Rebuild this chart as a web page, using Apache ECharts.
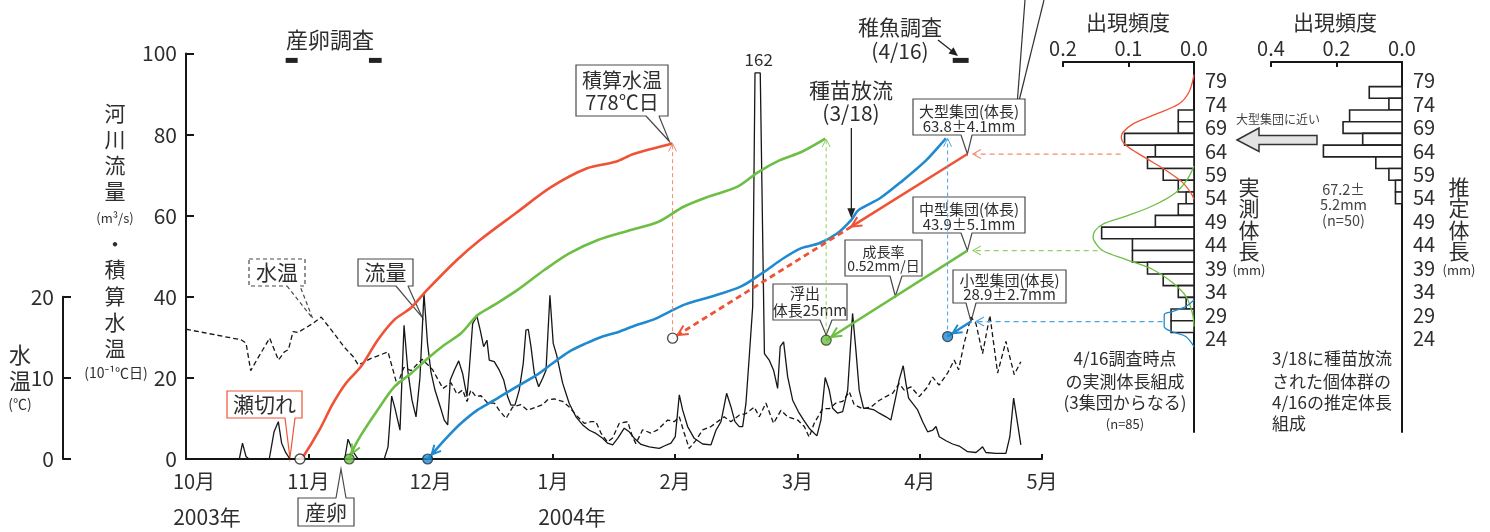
<!DOCTYPE html>
<html><head><meta charset="utf-8"><title>chart</title>
<script src="https://cdn.jsdelivr.net/npm/echarts@6.0.0/dist/echarts.min.js"></script>
<style>html,body{margin:0;padding:0;background:#fff;}#c{width:1490px;height:532px;}</style>
</head><body><div id="c"></div>
<script>
// ================= DATA =================
// x values: months since 1 Oct 2003 (0 = 10月1日 ... 7 = 5月1日)
const monthLabels = ['10月','11月','12月','1月','2月','3月','4月','5月'];
const yearLabels = ['2003年','2004年'];
// 河川流量 (m3/s)
const flow = [[0,0],[0.436,0],[0.462,3.9],[0.491,0.6],[0.515,0],
[0.681,0],[0.720,6.7],[0.755,9.2],[0.782,3.9],[0.817,1.5],[0.850,0],
[1.298,0],[1.325,4.9],[1.366,1.8],[1.407,0],
[1.621,0],[1.652,3],[1.682,15.5],[1.709,12.5],[1.750,7.1],[1.783,33],[1.815,21.5],[1.848,14.5],[1.881,10.4],[1.913,20],[1.946,40.8],[1.975,28.5],[2.003,21.5],[2.036,17],[2.079,12.9],[2.112,9.6],[2.140,8.4],[2.161,19.5],[2.194,21.9],[2.230,24.2],[2.262,21.1],[2.298,15.4],[2.316,21.9],[2.344,33.4],[2.379,35.2],[2.406,31.8],[2.434,27.7],[2.461,29.3],[2.480,24.4],[2.521,24],[2.562,21.9],[2.598,19.5],[2.630,15.4],[2.657,13.3],[2.690,13.3],[2.725,17],[2.758,23.6],[2.780,31.8],[2.799,32],[2.821,27.7],[2.848,21.2],[2.884,17.8],[2.917,19.9],[2.944,21.9],[2.976,40.4],[3.003,28.5],[3.031,25.6],[3.080,18.7],[3.134,13.7],[3.189,10.4],[3.244,8.4],[3.298,7.1],[3.352,6.3],[3.407,5.1],[3.448,3.9],[3.489,3.5],[3.530,5.1],[3.584,7.6],[3.625,6.7],[3.666,5.1],[3.721,3.6],[3.788,3.0],[3.870,2.6],[3.911,3.2],[3.966,3.9],[4.001,5.5],[4.034,15.8],[4.061,12.1],[4.102,8],[4.156,5.1],[4.225,3.7],[4.293,3.5],[4.334,7.1],[4.375,9.2],[4.421,16.2],[4.456,12.9],[4.489,9.2],[4.524,8],[4.552,8],[4.579,13.7],[4.606,25.2],[4.634,37.5],[4.653,95.2],[4.696,95.2],[4.730,26],[4.769,24.4],[4.805,21.9],[4.838,17.4],[4.859,27.7],[4.887,28.9],[4.920,20.3],[4.961,14.5],[5.007,11.7],[5.051,9.6],[5.096,7.6],[5.159,5.7],[5.192,9.6],[5.227,20.1],[5.260,17],[5.288,12.5],[5.329,11.3],[5.370,11.7],[5.411,17],[5.432,26.9],[5.451,35.9],[5.478,26.9],[5.505,17],[5.541,12.5],[5.574,12.5],[5.628,12.1],[5.669,11.3],[5.724,10.4],[5.764,9.6],[5.805,15.4],[5.832,19.5],[5.865,23],[5.887,18.7],[5.909,15],[5.942,13.7],[5.983,12.1],[6.024,9.2],[6.065,6.7],[6.106,7.1],[6.133,8],[6.160,5.5],[6.215,4.5],[6.269,3.7],[6.323,3.2],[6.392,1.8],[6.460,1.6],[6.492,2.4],[6.514,3.0],[6.541,1.6],[6.623,1.4],[6.705,1.4],[6.737,5.5],[6.768,15],[6.800,8.8],[6.827,3.5]];
const flowPeakLabel = '162';
const flowPeakAt = [4.675, 95.2];
// 水温 (℃)
const waterTemp = [[0.000,16.0],[0.450,14.7],[0.491,14.3],[0.529,10.9],[0.586,12.4],[0.684,14.9],[0.756,12.2],[0.804,13.2],[0.838,13.5],[0.875,15.7],[0.916,15.6],[1.036,16.7],[1.106,17.5],[1.199,15.7],[1.294,13.8],[1.368,12.6],[1.409,11.6],[1.513,12.4],[1.652,13.2],[1.727,9.1],[1.782,11.3],[1.840,10.9],[1.930,12.3],[1.979,11.6],[2.017,11.0],[2.101,8.7],[2.167,9.4],[2.216,8.0],[2.262,8.5],[2.298,7.1],[2.330,8.5],[2.371,7.7],[2.412,7.8],[2.467,6.9],[2.521,6.9],[2.562,6.0],[2.617,5.0],[2.671,6.4],[2.739,6.7],[2.794,6.0],[2.862,6.4],[2.917,6.7],[2.957,7.3],[3.011,7.4],[3.080,7.1],[3.134,6.4],[3.203,5.2],[3.257,4.4],[3.312,4.6],[3.352,4.6],[3.393,3.2],[3.448,2.1],[3.489,2.6],[3.543,4.4],[3.612,4.6],[3.652,2.7],[3.679,1.9],[3.734,3.6],[3.802,3.2],[3.857,3.6],[3.939,4.8],[3.993,4.6],[4.034,5.2],[4.074,3.2],[4.115,1.3],[4.170,2.3],[4.225,3.6],[4.293,4.0],[4.401,5.2],[4.456,4.6],[4.524,5.4],[4.579,5.6],[4.647,6.4],[4.688,5.2],[4.742,6.9],[4.805,4.4],[4.865,6.0],[4.920,5.2],[5.002,4.8],[5.056,4.0],[5.096,2.7],[5.137,4.4],[5.206,6.2],[5.260,6.2],[5.315,6.9],[5.370,7.1],[5.424,8.3],[5.464,6.7],[5.533,6.2],[5.601,6.4],[5.656,7.1],[5.724,7.7],[5.778,8.1],[5.832,9.3],[5.873,8.5],[5.928,8.9],[5.996,7.7],[6.065,8.9],[6.105,10.1],[6.159,9.1],[6.228,10.6],[6.282,12.2],[6.318,11.0],[6.364,14.3],[6.419,17.5],[6.460,16.7],[6.514,13.0],[6.574,17.7],[6.637,10.6],[6.705,14.5],[6.773,10.4],[6.827,12.0]];
// 積算水温 (10℃日)
const sumRed = [[0.932,0],[0.967,1],[1.090,7.1],[1.202,13.7],[1.308,18.7],[1.431,22.8],[1.567,29.3],[1.703,34.3],[1.840,37.3],[1.966,41.5],[2.213,49],[2.404,54],[2.696,60.6],[2.988,67.1],[3.280,71.7],[3.513,73.3],[3.660,75.2],[3.978,77.8]];
const sumGreen = [[1.335,0],[1.363,2.2],[1.431,5.9],[1.567,12.1],[1.703,17.8],[1.840,21.1],[1.976,24.8],[2.112,28.1],[2.249,31],[2.385,35.5],[2.521,38],[2.712,41.7],[2.930,46.6],[3.134,50.7],[3.368,54],[3.630,56.4],[3.864,58.5],[4.069,62.2],[4.273,64.7],[4.506,67.1],[4.682,70.8],[4.857,73.7],[5.032,75.7],[5.228,79]];
const sumBlue = [[1.976,0],[2.017,1.4],[2.140,5.5],[2.249,8.8],[2.385,12.1],[2.521,14.5],[2.657,17],[2.862,20.6],[2.998,23.6],[3.134,26.5],[3.271,28.5],[3.407,30.2],[3.543,31.4],[3.679,33],[3.816,34.3],[3.952,36.3],[4.088,38.2],[4.293,40],[4.535,42.5],[4.710,45.8],[4.886,49.5],[5.032,52],[5.178,53.2],[5.324,55.6],[5.441,59],[5.500,61.4],[5.675,64.3],[5.850,68.4],[6.054,73.7],[6.214,79.1]];
// 成長 back-calculation lines and markers
const growthRed = [[6.390,75.2],[5.441,57.3]];
const growthRedBack = [[5.441,57.3],[3.979,29.8]];
const growthGreen = [[6.390,51.4],[5.235,29.3]];
const growthBlue = [[6.419,33.9],[6.228,30.2]];
const upRed = [[3.979,29.8],[3.979,77.8]];
const upGreen = [[5.235,29.3],[5.235,78.9]];
const upBlue = [[6.228,30.2],[6.228,79.0]];
const openDots = [[0.932,0],[3.979,29.8]];
const greenDots = [[1.335,0],[5.235,29.3]];
const blueDots = [[1.976,0],[6.228,30.2]];
const surveySpawn = [[0.815,0.913],[1.496,1.600]];
const surveyFry = [[6.27,6.40]];
const surveyLevel = 98.3;
const releaseAt = [5.441, 59.4];
// links to histogram: [main chart point, histogram point]
const linkRed = [[6.435,75.2],[0.112,63.4]];
const linkGreen = [[6.435,51.4],[0.147,42.7]];
const linkBlue = [[6.460,33.9],[0.048,27.5]];
// 体長組成 histograms (bin centre mm, 出現頻度)
const bins1 = [71.5,69,66.5,64,61.5,59,56.5,54,51.5,49,46.5,44,41.5,39,36.5,34,31.5,29,26.5];
const freq1 = [0.024,0.024,0.106,0.059,0.071,0.047,0.024,0.012,0.024,0.059,0.141,0.094,0.094,0.071,0.047,0.024,0.012,0.035,0.035];
const bins2 = [76.5,74,71.5,69,66.5,64,61.5,59,56.5,54];
const freq2 = [0.10,0.04,0.16,0.18,0.12,0.24,0.08,0.04,0.02,0.02];
const binHalf = 1.25;
const normRed = [[0,80.3],[0.0076,76.6],[0.0227,74.1],[0.063,71.6],[0.093,69.8],[0.1085,68.0],[0.111,66.9],[0.106,65.5],[0.088,63.7],[0.063,61.6],[0.038,59.4],[0.0176,57.3],[0.005,55.1],[0,53.7]];
const normGreen = [[0,60.8],[0.01,58.0],[0.028,55.1],[0.063,52.3],[0.1035,50.1],[0.139,48.4],[0.1515,46.9],[0.154,45.5],[0.149,44.1],[0.139,42.7],[0.1035,40.8],[0.063,38.7],[0.033,35.9],[0.0126,33.0],[0.0025,29.4],[0,26.5]];
const normBlue = [[0,32.2],[0.0126,30.8],[0.033,29.7],[0.0455,29.0],[0.0455,26.5],[0.033,25.4],[0.0126,24.4],[0,22.2]];

// ================= STYLE =================
const FF = '"Noto Sans CJK JP","Noto Sans",sans-serif';
const C = {red:'#ef5235', green:'#6dbe45', blue:'#1f8ad0', redL:'#f58a72', greenL:'#93cf6c', blueL:'#4ea3dd', ink:'#161616', txt:'#2e2e2e', box:'#4a4a4a'};

const chart = echarts.init(document.getElementById('c'), null, {renderer:'canvas'});

const axLine = {show:true, onZero:false, lineStyle:{color:C.ink, width:2}};
const lbl = (extra) => Object.assign({fontSize:20, color:C.txt, fontFamily:FF}, extra);
const lineS = (data, color, width, extra) => Object.assign({type:'line', xAxisIndex:0, yAxisIndex:0, data, symbol:'none', silent:true, clip:false, z:3, lineStyle:{color, width}}, extra || {});

function histSeries(bins, freqs, idx) {
  return {type:'custom', xAxisIndex:idx, yAxisIndex:idx, silent:true, z:2, clip:false,
    data: bins.map((b,i)=>[b, freqs[i]]), encode:{x:1, y:0},
    renderItem(params, api) {
      const c = api.value(0), f = api.value(1);
      const p1 = api.coord([0, c + binHalf]), p2 = api.coord([f, c - binHalf]);
      return {type:'rect', shape:{x:Math.min(p1[0],p2[0]), y:Math.min(p1[1],p2[1]), width:Math.abs(p2[0]-p1[0]), height:Math.abs(p2[1]-p1[1])},
        style:{fill:'#fff', stroke:'#222', lineWidth:1.6}};
    }};
}
const normS = (data, color, idx) => ({type:'line', xAxisIndex:idx, yAxisIndex:idx, data, symbol:'none', smooth:0.35, silent:true, clip:false, z:3, lineStyle:{color, width:1.3}});

const histX = (gi, max, iv) => ({gridIndex:gi, type:'value', min:0, max, interval:iv, inverse:true, position:'top',
  axisLine:axLine, axisTick:{show:true, inside:true, length:5, lineStyle:{color:C.ink, width:2}}, splitLine:{show:false},
  axisLabel:lbl({margin:4, formatter:v=>v.toFixed(1)})});
const histY = (gi) => ({gridIndex:gi, type:'value', min:4, max:83, interval:5, position:'right',
  axisLine:axLine, axisTick:{show:false}, splitLine:{show:false},
  axisLabel:lbl({margin:11, showMaxLabel:false, formatter:v=> (v>=24 && v<=79) ? String(v) : ''})});

const option = {
  animation:false,
  backgroundColor:'#fff',
  textStyle:{fontFamily:FF},
  grid:[
    {left:186, right:448, top:53.5, bottom:73, outerBoundsMode:'none'},
    {left:186, right:448, top:296.8, bottom:73, outerBoundsMode:'none'},
    {left:1063, right:296, top:62, bottom:100, outerBoundsMode:'none'},
    {left:1271, right:88, top:62, bottom:100, outerBoundsMode:'none'}
  ],
  xAxis:[
    {gridIndex:0, type:'value', min:0, max:7, interval:1, axisLine:axLine,
     axisTick:{show:true, inside:true, length:5, lineStyle:{color:C.ink, width:2}}, splitLine:{show:false},
     axisLabel:lbl({margin:12, formatter:v=> v===0 ? '{f|'+monthLabels[0]+'}' : monthLabels[v],
       rich:{f:{padding:[0,0,0,16], fontSize:20, color:C.txt, fontFamily:FF}}})},
    {gridIndex:1, type:'value', min:0, max:7, show:false},
    histX(2, 0.2, 0.1),
    histX(3, 0.4, 0.2)
  ],
  yAxis:[
    {gridIndex:0, type:'value', min:0, max:100, interval:20, axisLine:axLine,
     axisTick:{show:true, inside:true, length:8, lineStyle:{color:C.ink, width:2}}, splitLine:{show:false},
     axisLabel:lbl({margin:9, fontSize:21})},
    {gridIndex:1, type:'value', min:0, max:20, interval:10, position:'left', offset:123, axisLine:axLine,
     axisTick:{show:true, inside:true, length:8, lineStyle:{color:C.ink, width:2}}, splitLine:{show:false},
     axisLabel:lbl({margin:9, fontSize:21})},
    histY(2), histY(3)
  ],
  series:[
    lineS(flow, C.ink, 1.3, {z:2}),
    {type:'line', xAxisIndex:1, yAxisIndex:1, data:waterTemp, symbol:'none', silent:true, clip:false, z:2, lineStyle:{color:C.ink, width:1.3, type:[5,3]}},
    lineS(sumRed, C.red, 2.6, {smooth:0.3}),
    lineS(sumGreen, C.green, 2.6, {smooth:0.3}),
    lineS(sumBlue, C.blue, 2.6, {smooth:0.3}),
    lineS(growthRed, C.red, 2.5),
    lineS(growthRedBack, C.red, 2.8, {lineStyle:{color:C.red, width:2.8, type:[6,4]}}),
    lineS(growthGreen, C.green, 2.5),
    lineS(growthBlue, C.blue, 2.5),
    lineS(upRed, C.redL, 1, {lineStyle:{color:C.redL, width:1, type:[4,3]}}),
    lineS(upGreen, C.greenL, 1, {lineStyle:{color:C.greenL, width:1, type:[4,3]}}),
    lineS(upBlue, C.blueL, 1, {lineStyle:{color:C.blueL, width:1, type:[4,3]}}),
    ...surveySpawn.concat(surveyFry).map(s => lineS([[s[0],surveyLevel],[s[1],surveyLevel]], '#222', 5, {z:4})),
    {type:'scatter', xAxisIndex:0, yAxisIndex:0, data:openDots, symbolSize:10, silent:true, clip:false, z:6, itemStyle:{color:'#fff', borderColor:'#222', borderWidth:1.4}},
    {type:'scatter', xAxisIndex:0, yAxisIndex:0, data:greenDots, symbolSize:10, silent:true, clip:false, z:6, itemStyle:{color:C.green, borderColor:'#2a3a22', borderWidth:1.2}},
    {type:'scatter', xAxisIndex:0, yAxisIndex:0, data:blueDots, symbolSize:10, silent:true, clip:false, z:6, itemStyle:{color:C.blue, borderColor:'#1b2a3a', borderWidth:1.2}},
    histSeries(bins1, freq1, 2),
    histSeries(bins2, freq2, 3),
    normS(normRed, C.red, 2), normS(normGreen, C.green, 2), normS(normBlue, C.blue, 2)
  ]
};
chart.setOption(option);

// ================= ANNOTATIONS =================
const px = (pt, g) => chart.convertToPixel({gridIndex:g || 0}, pt);
function T(text, x, y, size, o) {
  o = o || {};
  const al = o.align || 'center', va = o.va || 'middle';
  return {type:'text', x, y, z:o.z || 20, silent:true,
    style:{text, fill:o.color || C.txt, font:(size)+'px '+FF, align:al, verticalAlign:va, textAlign:al, textVerticalAlign:va}};
}
function head(to, from, o) {
  let dx = to[0]-from[0], dy = to[1]-from[1]; const L = Math.hypot(dx,dy) || 1; dx/=L; dy/=L;
  const back = o.back || 0, len = o.len || 8, half = o.half || 4;
  const tip = [to[0]-dx*back, to[1]-dy*back];
  const b = [tip[0]-dx*len, tip[1]-dy*len], n = [-dy, dx];
  const pts = [[b[0]+n[0]*half, b[1]+n[1]*half], tip, [b[0]-n[0]*half, b[1]-n[1]*half]];
  return o.fill ? {type:'polygon', z:30, silent:true, shape:{points:pts}, style:{fill:o.color}}
                : {type:'polyline', z:30, silent:true, shape:{points:pts}, style:{stroke:o.color, lineWidth:o.lw || 1.2, fill:null}};
}
function callout(b) {
  const by = b.up ? b.y : b.y + b.h;
  const s = b.stroke || C.box, dash = b.dash || null, z = b.z || 1;
  const ins = b.up ? 1.5 : -1.5;
  const els = [
    {type:'rect', z, silent:true, shape:{x:b.x, y:b.y, width:b.w, height:b.h}, style:{fill:'#fff', stroke:s, lineWidth:1.2, lineDash:dash}},
    {type:'polygon', z, silent:true, shape:{points:[[b.base[0]+0.8, by+ins],[b.base[0], by], b.tip, [b.base[1], by],[b.base[1]-0.8, by+ins]]}, style:{fill:'#fff'}},
    {type:'polyline', z, silent:true, shape:{points:[[b.base[0], by], b.tip, [b.base[1], by]]}, style:{stroke:s, lineWidth:1.2, lineDash:dash, fill:null}}
  ];
  b.lines.forEach(l => els.push(T(l[0], l[1], l[2], l[3], {z:z+0.5})));
  return els;
}
const add = (p, d) => [p[0]+d[0], p[1]+d[1]];
const G = [];

// arrowheads on main chart lines
const last = a => a[a.length-1];
G.push(head(px(sumGreen[0]), px(sumGreen[2]), {color:C.green, lw:2, back:6, len:9, half:4.5}));
G.push(head(px(sumBlue[0]), px(sumBlue[2]), {color:C.blue, lw:2, back:6, len:9, half:4.5}));
G.push(head(px(growthRed[1]), px(growthRed[0]), {color:C.red, lw:2, len:10, half:5}));
G.push(head(px(growthRedBack[1]), px(growthRedBack[0]), {color:C.red, lw:2, back:6, len:10, half:5}));
G.push(head(px(growthGreen[1]), px(growthGreen[0]), {color:C.green, lw:2, back:6, len:10, half:5}));
G.push(head(px(growthBlue[1]), px(growthBlue[0]), {color:C.blue, lw:2, back:6, len:9, half:4.5}));
[[upRed,C.redL],[upGreen,C.greenL],[upBlue,C.blueL]].forEach(([a,c]) => G.push(head(px(a[1]), px(a[0]), {color:c, lw:1, len:8, half:4})));
// links to histogram
[[linkRed,C.redL,2],[linkGreen,C.greenL,2],[linkBlue,C.blueL,2]].forEach(([lk,c,g]) => {
  const a = px(lk[0], 0), b = px(lk[1], g);
  G.push({type:'line', z:3, silent:true, shape:{x1:b[0], y1:a[1], x2:a[0], y2:a[1]}, style:{stroke:c, lineWidth:1.2, lineDash:[5,4]}});
  G.push(head(a, [b[0], a[1]], {color:c, lw:1.1, len:8, half:4.5}));
});

// callouts
const p0 = px([0.850, 0]);
G.push(...callout({x:227, y:391, w:75, h:27, stroke:C.red, base:[285,295], tip:[p0[0], p0[1]-1], lines:[['瀬切れ',264.5,404.5,21]]}));
const pt = px([1.036, 16.7], 1);
G.push(...callout({x:249, y:259, w:56, h:27, dash:[4,3], base:[287,300], tip:[pt[0], pt[1]-5], lines:[['水温',277,272.5,21]]}));
const pf = px([1.930, 35]);
G.push(...callout({x:358, y:259, w:55, h:27, base:[396,408], tip:pf, lines:[['流量',385.5,272.5,21]]}));
G.push(...callout({x:298, y:498, w:56, h:28, up:true, base:[336,346], tip:[341,469], lines:[['産卵',326,512,21]]}));
const pr = px(last(sumRed));
G.push(...callout({x:576, y:65, w:92, h:51, base:[646,659], tip:[pr[0]-3, pr[1]-2], lines:[['積算水温',622,80,20],['778℃日',622,102,20]]}));
const pgr = px(growthRed[0]);
G.push(...callout({x:913, y:99, w:112, h:36, base:[961,972], tip:pgr, lines:[['大型集団(体長)',969,111.5,15],['63.8±4.1mm',969,126.5,15]]}));
const pgg = px(growthGreen[0]);
G.push(...callout({x:913, y:197, w:112, h:36, base:[961,972], tip:pgg, lines:[['中型集団(体長)',969,209.5,15],['43.9±5.1mm',969,224.5,15]]}));
const gA = px(growthGreen[0]), gB = px(growthGreen[1]);
const pRate = [gB[0] + (gA[0]-gB[0])*0.49, gB[1] + (gA[1]-gB[1])*0.49];
G.push(...callout({x:845, y:240, w:77, h:36, base:[890,902], tip:pRate, lines:[['成長率',883.5,251.5,14],['0.52mm/日',883.5,266,14]]}));
const pgd = px(greenDots[1]);
G.push(...callout({x:773, y:284, w:74, h:36, base:[820,832], tip:[pgd[0], pgd[1]-5], lines:[['浮出',805,293.5,15],['体長25mm',810,310,15]]}));
const pgb = px(growthBlue[0]);
G.push(...callout({x:953, y:270, w:113, h:33, base:[966,976], tip:pgb, lines:[['小型集団(体長)',1009.5,280.5,15],['28.9±2.7mm',1009.5,294.5,15]]}));

// long leader lines at top right
G.push({type:'line', z:5, silent:true, shape:{x1:1017.5, y1:99, x2:1025, y2:0}, style:{stroke:'#333', lineWidth:1.2}});
G.push({type:'line', z:5, silent:true, shape:{x1:1019.5, y1:99, x2:1044, y2:0}, style:{stroke:'#333', lineWidth:1.2}});

// titles and labels
G.push(T('産卵調査', 330, 40, 22));
G.push(T('稚魚調査', 900, 27, 21), T('(4/16)', 900, 51, 21));
G.push({type:'line', z:5, silent:true, shape:{x1:938, y1:40, x2:952, y2:51}, style:{stroke:'#222', lineWidth:1.3}});
G.push(head([958,56], [938,40], {color:'#222', len:9, half:4, fill:true}));
G.push(T('種苗放流', 851, 90, 21), T('(3/18)', 851, 113, 21));
const pRel = px(releaseAt);
G.push({type:'line', z:5, silent:true, shape:{x1:pRel[0], y1:128, x2:pRel[0], y2:pRel[1]-6}, style:{stroke:'#222', lineWidth:1.3}});
G.push(head([pRel[0], pRel[1]], [pRel[0], 128], {color:'#222', len:10, half:4, fill:true}));
const pPeak = px(flowPeakAt);
G.push(T(flowPeakLabel, pPeak[0]+1, pPeak[1]-13, 17));

// y-axis names
[['河',113],['川',139],['流',165],['量',191],['・',244],['積',269],['算',296],['水',322],['温',348]].forEach(([c,y]) => G.push(T(c, 115, y, 21)));
G.push(T('(m³/s)', 115, 218, 13), T('(10⁻¹℃日)', 116, 373, 14));
G.push(T('水', 20, 355, 22), T('温', 20, 381, 22), T('(℃)', 20, 404, 14));
G.push(T(yearLabels[0], 207, 517, 21), T(yearLabels[1], 572, 517, 21));

// histogram panel texts
G.push(T('出現頻度', 1128, 22, 21), T('出現頻度', 1335, 22, 21));
['実','測','体','長'].forEach((c,i) => G.push(T(c, 1249, 187 + i*21.5, 21)));
['推','定','体','長'].forEach((c,i) => G.push(T(c, 1459, 187 + i*21.5, 21)));
G.push(T('(mm)', 1249, 270, 13), T('(mm)', 1459, 270, 13));
G.push({type:'polygon', z:5, silent:true, shape:{points:[[1237,140],[1259,128],[1259,135.5],[1317,135.5],[1317,144.5],[1259,144.5],[1259,151.5]]}, style:{fill:'#e3e3e3', stroke:'#333', lineWidth:1.5}});
G.push(T('大型集団に近い', 1278, 119, 12, {color:'#444'}));
G.push(T('67.2±', 1343.5, 189, 14.5, {color:'#444'}), T('5.2mm', 1343.5, 204.5, 14.5, {color:'#444'}), T('(n=50)', 1343.5, 220, 14.5, {color:'#444'}));
G.push(T('4/16調査時点', 1125, 359, 17), T('の実測体長組成', 1125, 381.5, 17), T('(3集団からなる)', 1125, 403, 17), T('(n=85)', 1125, 424, 13));
G.push(T('3/18に種苗放流', 1272, 359, 17, {align:'left'}), T('された個体群の', 1272, 381.5, 17, {align:'left'}), T('4/16の推定体長', 1272, 403, 17, {align:'left'}), T('組成', 1272, 424, 17, {align:'left'}));

chart.setOption({graphic:{elements:G}});
</script>
</body></html>
